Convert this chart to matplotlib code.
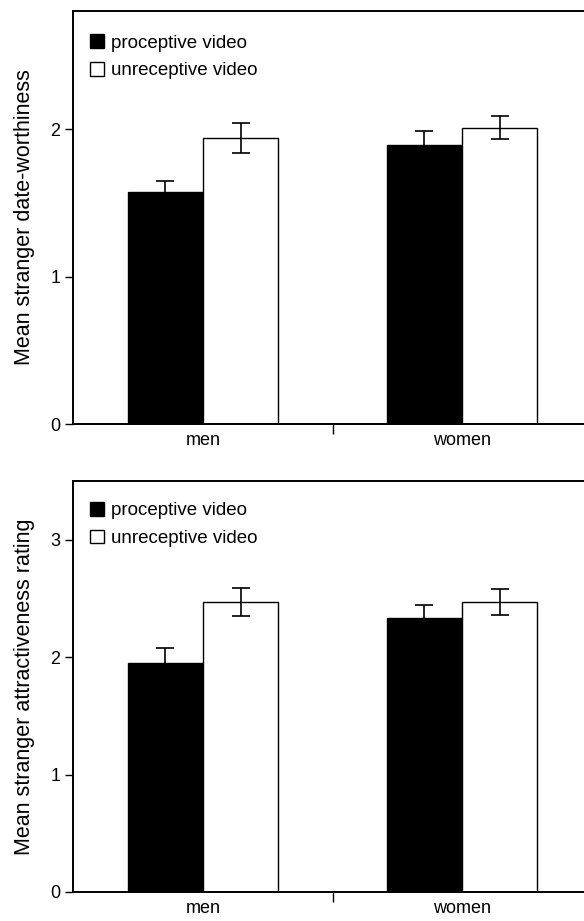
"""
Two-panel bar chart: stranger ratings after proceptive vs unreceptive video.
"""

import matplotlib
matplotlib.use("Agg")
import matplotlib.pyplot as plt
from matplotlib.patches import Patch

plt.rcParams['font.family'] = ['Liberation Sans', 'DejaVu Sans']

groups = ['men', 'women']
series_labels = ['proceptive video', 'unreceptive video']

# top panel: date-worthiness
date_proceptive = [1.57, 1.89]
date_proceptive_err = [0.075, 0.10]
date_unreceptive = [1.94, 2.01]
date_unreceptive_err = [0.10, 0.08]

# bottom panel: attractiveness rating
attr_proceptive = [1.95, 2.33]
attr_proceptive_err = [0.13, 0.11]
attr_unreceptive = [2.47, 2.47]
attr_unreceptive_err = [0.12, 0.11]


def draw_panel(ax, prop, prop_err, unrec, unrec_err, ylabel, ymax, yticks,
               legend_y):
    x = list(range(len(groups)))
    w = 0.29
    err_kw = dict(ecolor='black', capsize=6.5, elinewidth=1.2, capthick=1.2)
    ax.bar([i - w / 2 for i in x], prop, width=w, yerr=prop_err,
           color='black', edgecolor='black', linewidth=1.0,
           error_kw=err_kw, zorder=2)
    ax.bar([i + w / 2 for i in x], unrec, width=w, yerr=unrec_err,
           color='white', edgecolor='black', linewidth=1.0,
           error_kw=err_kw, zorder=2)

    ax.set_xlim(-0.502, 1.471)
    ax.set_ylim(0, ymax)
    ax.set_yticks(yticks)
    ax.set_yticklabels([str(t) for t in yticks])

    # single divider tick between the groups, labels at group centres
    ax.set_xticks([0.5])
    ax.set_xticklabels([''])
    ax.set_xticks(x, minor=True)
    ax.set_xticklabels(groups, minor=True)
    ax.tick_params(axis='x', which='major', direction='out', length=7,
                   width=1.0)
    ax.tick_params(axis='x', which='minor', length=0, pad=6, labelsize=13)
    ax.tick_params(axis='y', direction='out', length=6, width=1.0,
                   labelsize=13, pad=3)

    ax.spines['right'].set_visible(False)
    for s in ['top', 'left', 'bottom']:
        ax.spines[s].set_linewidth(1.4)

    ax.set_ylabel(ylabel, fontsize=15.5, labelpad=11)

    handles = [Patch(facecolor='black', edgecolor='black', linewidth=1.0),
               Patch(facecolor='white', edgecolor='black', linewidth=1.0)]
    ax.legend(handles, series_labels, loc='upper left',
              bbox_to_anchor=(0.0, legend_y), frameon=False, fontsize=13.5,
              handlelength=0.75, handleheight=0.75, handletextpad=0.4,
              labelspacing=0.55, borderaxespad=0.5)


fig = plt.figure(figsize=(5.84, 9.21), dpi=100)
ax_top = fig.add_axes([0.125, 0.5396, 0.875, 0.4484])
ax_bot = fig.add_axes([0.125, 0.0315, 0.875, 0.4462])

draw_panel(ax_top, date_proceptive, date_proceptive_err,
           date_unreceptive, date_unreceptive_err,
           'Mean stranger date-worthiness', 2.8, [0, 1, 2], 0.985)
draw_panel(ax_bot, attr_proceptive, attr_proceptive_err,
           attr_unreceptive, attr_unreceptive_err,
           'Mean stranger attractiveness rating', 3.5, [0, 1, 2, 3], 0.99)

fig.savefig('out.png', dpi=100)
